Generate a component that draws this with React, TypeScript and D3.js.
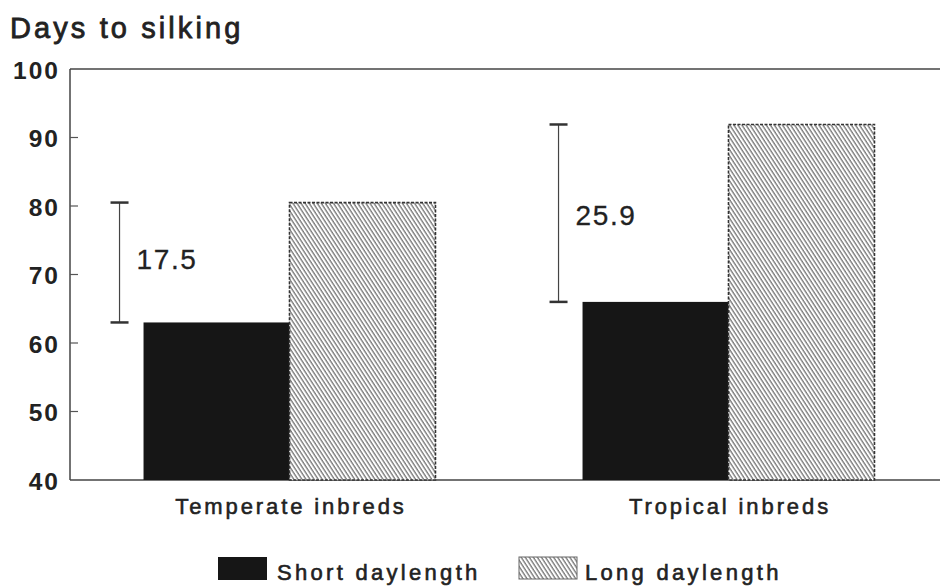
import React from "react";
import * as d3 from "d3";

// Days to silking under short vs long daylength
const categories = ["Temperate inbreds", "Tropical inbreds"];
const series = ["Short daylength", "Long daylength"];
const shortDaylength = [63.0, 66.0];
const longDaylength = [80.5, 91.9];
const differences = [17.5, 25.9];
const yTicks = [40, 50, 60, 70, 80, 90, 100];

const W = 940;
const H = 586;
const FONT = "'Liberation Sans', Arial, Helvetica, sans-serif";
const INK = "#222";

export default function App() {
  const left = 70;
  const right = 948;
  const top = 69;
  const bottom = 480;

  const y = d3.scaleLinear().domain([40, 100]).range([bottom, top]);
  const x = d3
    .scaleBand<string>()
    .domain(categories)
    .range([left, right])
    .paddingInner(0.335)
    .paddingOuter(0.1675);
  const xs = d3
    .scaleBand<string>()
    .domain(series)
    .range([0, x.bandwidth()])
    .padding(0);

  const rows = categories.map((c, i) => ({
    cat: c,
    values: [shortDaylength[i], longDaylength[i]],
    diff: differences[i],
  }));

  return (
    <svg
      width={W}
      height={H}
      viewBox={`0 0 ${W} ${H}`}
      style={{ position: "absolute", left: 0, top: 0, background: "#fff" }}
    >
      <defs>
        <pattern
          id="hatch"
          patternUnits="userSpaceOnUse"
          width={3.4}
          height={10}
          patternTransform="rotate(-33)"
        >
          <rect width={3.4} height={10} fill="#fff" />
          <line x1={1} y1={0} x2={1} y2={10} stroke="#666" strokeWidth={1.2} />
        </pattern>
      </defs>

      {/* title */}
      <text
        x={10}
        y={38}
        fontFamily={FONT}
        fontSize={29}
        letterSpacing={3.1}
        fill={INK}
        stroke={INK}
        strokeWidth={0.8}
      >
        Days to silking
      </text>

      {/* frame */}
      <line x1={left} y1={top} x2={W} y2={top} stroke="#444" strokeWidth={1.5} />
      <line x1={left} y1={top} x2={left} y2={bottom} stroke="#444" strokeWidth={1.5} />
      <line x1={left} y1={bottom} x2={W} y2={bottom} stroke="#444" strokeWidth={1.5} />

      {/* y ticks */}
      {yTicks.map((t) => (
        <g key={t}>
          {t !== 40 && t !== 100 && (
            <line x1={left} x2={left + 8} y1={y(t)} y2={y(t)} stroke="#555" strokeWidth={1.2} />
          )}
          <text
            x={60}
            y={y(t) + 1}
            dy="0.36em"
            textAnchor="end"
            fontFamily={FONT}
            fontWeight="bold"
            fontSize={24.5}
            letterSpacing={2}
            fill={INK}
          >
            {t}
          </text>
        </g>
      ))}

      {/* bars */}
      {rows.map((r) => (
        <g key={r.cat} transform={`translate(${x(r.cat)},0)`}>
          {r.values.map((v, j) => {
            const bx = xs(series[j])!;
            const by = y(v);
            return j === 0 ? (
              <rect
                key={j}
                x={bx}
                y={by}
                width={xs.bandwidth()}
                height={bottom - by}
                fill="#161616"
              />
            ) : (
              <rect
                key={j}
                x={bx}
                y={by}
                width={xs.bandwidth()}
                height={bottom - by}
                fill="url(#hatch)"
                stroke="#333"
                strokeWidth={1.6}
                strokeDasharray="3 1.5"
              />
            );
          })}
        </g>
      ))}

      {/* difference brackets */}
      {rows.map((r, i) => {
        const bxr = x(r.cat)! - 24;
        const hi = r.values[1];
        const lo = hi - r.diff;
        return (
          <g key={`d-${r.cat}`}>
            <line x1={bxr} x2={bxr} y1={y(hi)} y2={y(lo)} stroke="#444" strokeWidth={1.2} />
            <line x1={bxr - 9} x2={bxr + 9} y1={y(hi)} y2={y(hi)} stroke="#333" strokeWidth={2.5} />
            <line x1={bxr - 9} x2={bxr + 9} y1={y(lo)} y2={y(lo)} stroke="#333" strokeWidth={2.5} />
            <text
              x={bxr + 17}
              y={y((hi + lo) / 2) + (i === 0 ? -4 : 2)}
              dy="0.36em"
              fontFamily={FONT}
              fontSize={28}
              letterSpacing={1.6}
              fill={INK}
              stroke={INK}
              strokeWidth={0.3}
            >
              {r.diff.toFixed(1)}
            </text>
          </g>
        );
      })}

      {/* category labels */}
      {categories.map((c) => (
        <text
          key={c}
          x={x(c)! + x.bandwidth() / 2 + 1.5}
          y={514}
          textAnchor="middle"
          fontFamily={FONT}
          fontSize={22}
          letterSpacing={2.9}
          fill={INK}
          stroke={INK}
          strokeWidth={0.55}
        >
          {c}
        </text>
      ))}

      {/* legend */}
      <rect x={218} y={557} width={49} height={23} fill="#161616" />
      <text
        x={277}
        y={580}
        fontFamily={FONT}
        fontSize={22}
        letterSpacing={3.3}
        fill={INK}
        stroke={INK}
        strokeWidth={0.6}
      >
        {series[0]}
      </text>
      <rect x={519} y={557} width={58} height={22} fill="url(#hatch)" stroke="#666" strokeWidth={1} />
      <text
        x={585}
        y={580}
        fontFamily={FONT}
        fontSize={22}
        letterSpacing={3.3}
        fill={INK}
        stroke={INK}
        strokeWidth={0.6}
      >
        {series[1]}
      </text>
    </svg>
  );
}
